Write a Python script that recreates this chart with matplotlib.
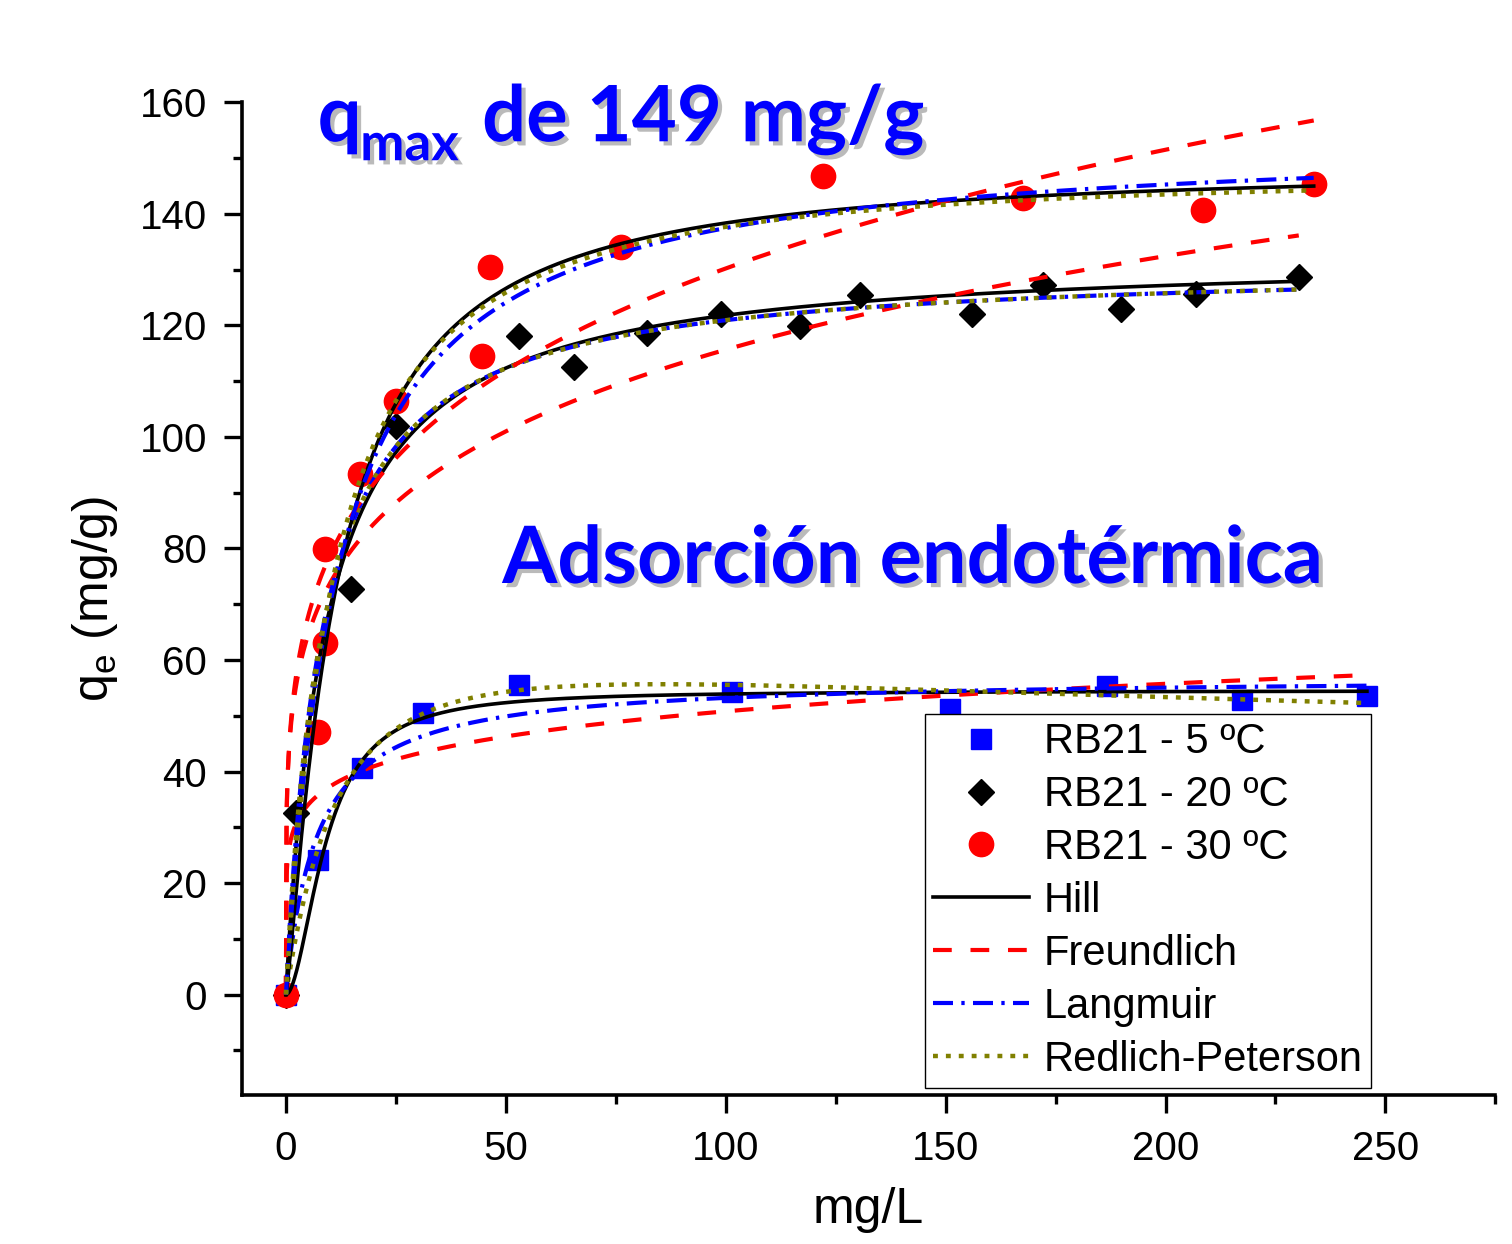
import numpy as np
import matplotlib
matplotlib.use("Agg")
import matplotlib.pyplot as plt
import matplotlib.patheffects as pe
from matplotlib.ticker import MultipleLocator

plt.rcParams['font.family'] = ['Liberation Sans', 'DejaVu Sans']
plt.rcParams['mathtext.fontset'] = 'custom'
plt.rcParams['mathtext.rm'] = 'Liberation Sans'

# experimental points (Ce in mg/L, qe in mg/g)
c5 = [0, 7.4, 17.4, 31.1, 53.0, 101.4, 150.9, 186.8, 217.5, 245.8]
q5 = [0, 24.2, 40.7, 50.4, 55.5, 54.2, 51.2, 55.4, 52.9, 53.6]

c20 = [0, 2.3, 14.7, 25.1, 53.0, 65.4, 82.0, 98.9, 116.8, 130.5, 156.1, 172.1, 189.8, 207.0, 230.3]
q20 = [0, 32.5, 72.7, 102.0, 118.0, 112.5, 118.7, 122.0, 119.8, 125.4, 122.0, 127.2, 122.9, 125.6, 128.7]

c30 = [0, 7.4, 8.8, 9.0, 16.9, 25.1, 44.7, 46.5, 76.1, 122.2, 167.6, 208.5, 233.7]
q30 = [0, 47.1, 79.9, 63.1, 93.4, 106.5, 114.5, 130.4, 134.0, 146.7, 142.8, 140.6, 145.3]

series_labels = ['RB21 - 5 ºC', 'RB21 - 20 ºC', 'RB21 - 30 ºC']

# fitted model parameters, order 5, 20, 30 ºC
hill_qmax = [54.5, 133.0, 149.0]
hill_k = [9.08, 9.2, 11.8]
hill_n = [1.87, 1.0, 1.2]

freund_k = [27.4, 47.0, 47.6]
freund_inv_n = [0.134, 0.1955, 0.2185]

lang_qm = [57.0, 131.0, 154.0]
lang_kl = [0.14, 0.12, 0.083]

rp_k = [5.0, 15.72, 13.0]
rp_a = [0.0401, 0.12, 0.077]
rp_b = [1.15, 1.0, 1.02]

fig = plt.figure(figsize=(15.12, 12.44), dpi=100)
ax = fig.add_axes([0.160, 0.1198, 0.829, 0.798])

ax.plot(c5, q5, 's', color='#0000ff', ms=15, ls='none', label=series_labels[0], zorder=2)
ax.plot(c20, q20, 'D', color='black', ms=13.5, ls='none', label=series_labels[1], zorder=2)
ax.plot(c30, q30, 'o', color='#ff0000', ms=17.5, ls='none', label=series_labels[2], zorder=2)

ends = [max(c5), max(c20), max(c30)]
for i in range(3):
    c = np.linspace(0, ends[i], 1500)
    hill = hill_qmax[i] * c**hill_n[i] / (hill_k[i]**hill_n[i] + c**hill_n[i])
    freund = freund_k[i] * c**freund_inv_n[i]
    lang = lang_qm[i] * lang_kl[i] * c / (1 + lang_kl[i] * c)
    rp = rp_k[i] * c / (1 + rp_a[i] * c**rp_b[i])
    lab = (i == 0)
    ax.plot(c, hill, color='black', lw=2.6, zorder=3,
            label='Hill' if lab else None)
    ax.plot(c, freund, color='#ff0000', lw=3.0, dashes=[4.5, 4.5], zorder=3,
            label='Freundlich' if lab else None)
    ax.plot(c, lang, color='#0000ff', lw=3.0, dashes=[4.8, 2.0, 0.8, 2.0], zorder=3,
            label='Langmuir' if lab else None)
    ax.plot(c, rp, color='#808000', lw=3.2, dashes=[1.1, 1.8], zorder=3,
            label='Redlich-Peterson' if lab else None)

ax.set_xlim(-10, 275)
ax.set_ylim(-18, 160)
ax.xaxis.set_major_locator(MultipleLocator(50))
ax.xaxis.set_minor_locator(MultipleLocator(25))
ax.yaxis.set_major_locator(MultipleLocator(20))
ax.yaxis.set_minor_locator(MultipleLocator(10))

ax.spines['top'].set_visible(False)
ax.spines['right'].set_visible(False)
for s in ['left', 'bottom']:
    ax.spines[s].set_linewidth(2.6)
ax.tick_params(which='major', direction='out', length=13, width=2.4, labelsize=29, pad=12)
ax.tick_params(which='minor', direction='out', length=6.5, width=2.4)

ax.set_xlabel('mg/L', fontsize=36, labelpad=14)
ax.set_ylabel(r'q$_\mathrm{e}$ (mg/g)', fontsize=36, labelpad=14)

shadow = [pe.withSimplePatchShadow(offset=(3, -3), shadow_rgbFace='#777777', alpha=0.5)]
big = dict(color='#0000ff', family='Lato', weight='bold', va='baseline', ha='left',
           path_effects=shadow, zorder=5)
ax.text(7.2, 153, 'q', fontsize=56, **big)
ax.text(16.9, 149.6, 'max', fontsize=38, **big)
ax.text(44.6, 153, 'de 149 mg/g', fontsize=56, **big)
ax.text(49.2, 73.8, 'Adsorción endotérmica', fontsize=57, **big)

leg = ax.legend(loc='lower left', bbox_to_anchor=(0.545, 0.007), borderaxespad=0,
                fontsize=30, frameon=True, fancybox=False, framealpha=1,
                edgecolor='black', handlelength=2.3, handletextpad=0.35,
                labelspacing=0.31, borderpad=0.2)
leg.get_frame().set_linewidth(1.0)

fig.savefig('out.png', dpi=100)
